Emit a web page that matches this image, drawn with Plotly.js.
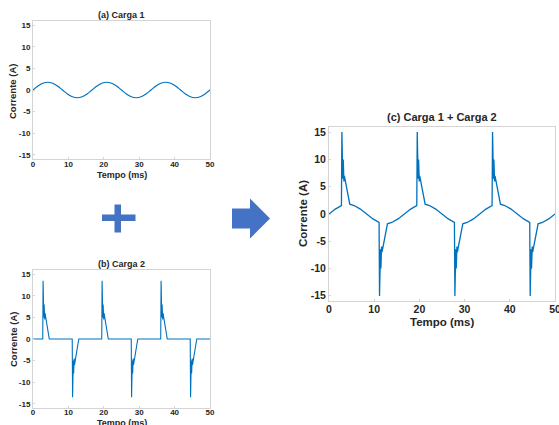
<!DOCTYPE html>
<html>
<head>
<meta charset="utf-8">
<script src="https://cdn.plot.ly/plotly-3.0.1.min.js"></script>
<style>html,body{margin:0;padding:0;background:#fff;}#chart{width:559px;height:425px;}</style>
</head>
<body>
<div id="chart"></div>
<script>
// (a) Carga 1
const tempo1 = [0,1.39,2.78,4.17,5.56,6.94,8.33,9.72,11.11,12.5,13.89,15.28,16.67,18.06,19.44,20.83,22.22,23.61,25.0,26.39,27.78,29.17,30.56,31.94,33.33,34.72,36.11,37.5,38.89,40.28,41.67,43.06,44.44,45.83,47.22,48.61,50.0];
const carga1 = [0,0.9,1.56,1.8,1.56,0.9,0,-0.9,-1.56,-1.8,-1.56,-0.9,0,0.9,1.56,1.8,1.56,0.9,0,-0.9,-1.56,-1.8,-1.56,-0.9,0,0.9,1.56,1.8,1.56,0.9,0,-0.9,-1.56,-1.8,-1.56,-0.9,0];

// (b) Carga 2
const tempo2 = [0,
  2.75,2.85,3.05,3.15,3.3,3.4,4.6,
  11.08,11.18,11.38,11.48,11.63,11.73,12.93,
  19.42,19.52,19.72,19.82,19.97,20.07,21.27,
  27.75,27.85,28.05,28.15,28.3,28.4,29.6,
  36.08,36.18,36.38,36.48,36.63,36.73,37.93,
  44.41,44.51,44.71,44.81,44.96,45.06,46.26,
  50];
const carga2 = [0,
  0,13.5,5,8,4.5,6,0,
  0,-13.5,-5,-8,-4.5,-6,0,
  0,13.5,5,8,4.5,6,0,
  0,-13.5,-5,-8,-4.5,-6,0,
  0,13.5,5,8,4.5,6,0,
  0,-13.5,-5,-8,-4.5,-6,0,
  0];

// (c) Carga 1 + Carga 2
const tempo3 = [0,1.39,2.75,2.85,3.05,3.15,3.3,3.4,4.6,5.56,6.94,8.33,9.72,11.08,11.18,11.38,11.48,11.63,11.73,12.93,13.89,15.28,16.67,
  18.06,19.42,19.52,19.72,19.82,19.97,20.07,21.27,22.23,23.61,25.0,26.39,27.75,27.85,28.05,28.15,28.3,28.4,29.6,30.56,31.95,33.33,
  34.72,36.08,36.18,36.38,36.48,36.63,36.73,37.93,38.89,40.27,41.66,43.05,44.41,44.51,44.71,44.81,44.96,45.06,46.26,47.22,48.61,50];
const soma = [0,0.9,1.55,15.1,6.5,10,6,7,1.8,1.56,0.9,0,-0.9,-1.55,-15.1,-6.5,-10,-6,-7,-1.8,-1.56,-0.9,0,
  0.9,1.55,15.1,6.5,10,6,7,1.8,1.56,0.9,0,-0.9,-1.55,-15.1,-6.5,-10,-6,-7,-1.8,-1.56,-0.9,0,
  0.9,1.55,15.1,6.5,10,6,7,1.8,1.56,0.9,0,-0.9,-1.55,-15.1,-6.5,-10,-6,-7,-1.8,-1.56,-0.9,0];

const xTicks = [0,10,20,30,40,50];
const yTicks = [-15,-10,-5,0,5,10,15];
const titles = ['(a) Carga 1','(b) Carga 2','(c) Carga 1 + Carga 2'];
const xLabel = 'Tempo (ms)';
const yLabel = 'Corrente (A)';

const W = 559, H = 425;
const px = x => x / W;
const py = y => 1 - y / H;
const FONT = 'Liberation Sans, Arial, Helvetica, sans-serif';
const TXT = '#262626';
const BLUE = '#0072BD';
const SHAPE = '#4472C4';

function xa(domain, size, anchor, standoff){
  return {domain: domain, anchor: anchor, range:[0,50], tickvals:xTicks, ticktext:xTicks.map(String),
    showgrid:false, zeroline:false, showline:true, linecolor:'#d4d4d4', linewidth:1, mirror:true,
    ticks:'inside', ticklen:2, tickcolor:'#d4d4d4', ticklabeloverflow:'allow', ticklabelstandoff:standoff,
    tickfont:{family:FONT, size:size, color:TXT, weight:'bold'}, fixedrange:true};
}
function ya(domain, size, anchor){
  return {domain: domain, anchor: anchor, range:[-16,16], tickvals:yTicks, ticktext:yTicks.map(String),
    showgrid:false, zeroline:false, showline:true, linecolor:'#d4d4d4', linewidth:1, mirror:true,
    ticks:'inside', ticklen:2, tickcolor:'#d4d4d4', ticklabeloverflow:'allow',
    tickfont:{family:FONT, size:size, color:TXT, weight:'bold'}, fixedrange:true};
}

const traces = [
  {x:tempo1, y:carga1, type:'scatter', mode:'lines', line:{color:BLUE, width:1.2, shape:'spline', smoothing:1}, xaxis:'x', yaxis:'y', hoverinfo:'skip'},
  {x:tempo2, y:carga2, type:'scatter', mode:'lines', line:{color:BLUE, width:1.1}, xaxis:'x2', yaxis:'y2', hoverinfo:'skip'},
  {x:tempo3, y:soma, type:'scatter', mode:'lines', line:{color:BLUE, width:1.3}, xaxis:'x3', yaxis:'y3', hoverinfo:'skip'}
];

function ann(text, x, y, size, angle){
  return {text:text, xref:'paper', yref:'paper', x:px(x), y:py(y), xanchor:'center', yanchor:'middle',
    showarrow:false, textangle:angle||0, font:{family:FONT, size:size, color:TXT, weight:'bold'}};
}

const plus = `M ${px(102)} ${py(214.5)} L ${px(135.5)} ${py(214.5)} L ${px(135.5)} ${py(221)} L ${px(121)} ${py(221)} L ${px(121)} ${py(232.5)} L ${px(114.5)} ${py(232.5)} L ${px(114.5)} ${py(221)} L ${px(102)} ${py(221)} Z M ${px(114.5)} ${py(214.5)} L ${px(114.5)} ${py(204.5)} L ${px(121)} ${py(204.5)} L ${px(121)} ${py(214.5)} Z`;
const arrow = `M ${px(232)} ${py(208.5)} L ${px(250)} ${py(208.5)} L ${px(250)} ${py(198.5)} L ${px(270)} ${py(218.5)} L ${px(250)} ${py(238.5)} L ${px(250)} ${py(228.5)} L ${px(232)} ${py(228.5)} Z`;

const layout = {
  width:W, height:H, margin:{l:0,r:0,t:0,b:0}, paper_bgcolor:'#fff', plot_bgcolor:'#fff', showlegend:false,
  xaxis: xa([px(33),px(210)], 8, 'y', -3),
  yaxis: ya([py(159),py(21)], 8, 'x'),
  xaxis2: xa([px(33),px(210)], 8, 'y2', -4),
  yaxis2: ya([py(408),py(270)], 8, 'x2'),
  xaxis3: xa([px(329),px(555)], 10.5, 'y3', -2),
  yaxis3: ya([py(301),py(127)], 10.5, 'x3'),
  annotations:[
    ann(titles[0], 121, 14.5, 9),
    ann(xLabel, 122, 175, 9),
    ann(yLabel, 13, 92, 9.5, -90),
    ann(titles[1], 121, 264, 9),
    ann(xLabel, 122, 422.5, 9),
    ann(yLabel, 13, 340, 9.5, -90),
    ann(titles[2], 442, 117, 11),
    ann(xLabel, 442, 322, 11.5),
    ann(yLabel, 303, 214, 11.5, -90)
  ],
  shapes:[
    {type:'path', xref:'paper', yref:'paper', path:plus, fillcolor:SHAPE, line:{width:0}},
    {type:'path', xref:'paper', yref:'paper', path:arrow, fillcolor:SHAPE, line:{width:0}}
  ]
};

Plotly.newPlot('chart', traces, layout, {staticPlot:true, displayModeBar:false});
</script>
</body>
</html>
